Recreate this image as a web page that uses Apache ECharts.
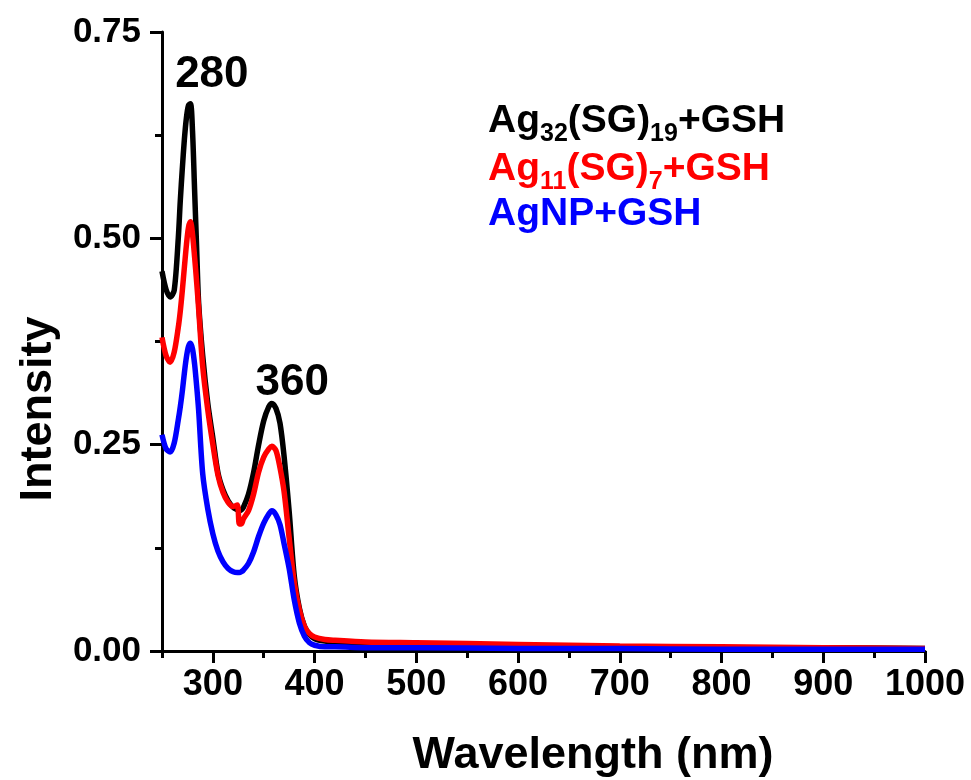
<!DOCTYPE html>
<html>
<head>
<meta charset="utf-8">
<script src="https://cdn.jsdelivr.net/npm/echarts@6/dist/echarts.min.js"></script>
<style>
html,body{margin:0;padding:0;background:#fff;}
#main{width:971px;height:780px;}
</style>
</head>
<body>
<div id="main"></div>
<script>
// Wavelength grid (nm)
var wavelength = [250,254,258,262,266,268,270,272,274,276,278,280,282,284,286,290,295,300,305,310,315,320,324,326,328,330,335,340,345,350,355,358,362,366,370,375,380,385,390,395,400,410,420,450,500,600,700,800,900,1000];
// Ag32(SG)19 + GSH
var ag32 = [0.460,0.438,0.429,0.437,0.500,0.546,0.585,0.620,0.646,0.661,0.663,0.630,0.560,0.490,0.422,0.358,0.300,0.258,0.216,0.195,0.182,0.174,0.171,0.170,0.171,0.174,0.190,0.216,0.250,0.279,0.296,0.300,0.294,0.276,0.236,0.169,0.091,0.052,0.030,0.020,0.015,0.012,0.011,0.009,0.008,0.006,0.005,0.004,0.004,0.003];
// Ag11(SG)7 + GSH
var ag11 = [0.380,0.358,0.350,0.362,0.392,0.412,0.437,0.465,0.492,0.513,0.520,0.505,0.478,0.448,0.415,0.345,0.292,0.250,0.213,0.192,0.180,0.175,0.177,0.154,0.154,0.160,0.170,0.190,0.217,0.235,0.245,0.248,0.243,0.222,0.193,0.137,0.083,0.050,0.030,0.021,0.017,0.014,0.013,0.011,0.010,0.008,0.006,0.005,0.004,0.003];
// AgNP + GSH
var agnp = [0.262,0.245,0.241,0.252,0.280,0.296,0.315,0.337,0.356,0.369,0.373,0.366,0.348,0.322,0.292,0.215,0.172,0.142,0.121,0.108,0.100,0.096,0.095,0.095,0.096,0.098,0.106,0.120,0.139,0.155,0.166,0.170,0.165,0.153,0.130,0.100,0.062,0.034,0.018,0.010,0.007,0.005,0.005,0.004,0.004,0.003,0.003,0.002,0.002,0.002];

var xMajorTicks = [300,400,500,600,700,800,900,1000];
var xMinorTicks = [250,350,450,550,650,750,850,950];

var annoText = ['280','360'];
var annoX = [299,378];
var annoY = [0.698,0.325];

var xTitle = 'Wavelength (nm)';
var yTitle = 'Intensity';

var FONT = 'Liberation Sans, Arial, sans-serif';

function pairs(xs, ys){ return xs.map(function(x,i){ return [x, ys[i]]; }); }

var chart = echarts.init(document.getElementById('main'), null, {renderer:'canvas'});

var axisLine = {show:true, lineStyle:{color:'#000', width:3}};
var LW = 5.5;

var option = {
  backgroundColor:'#fff',
  animation:false,
  grid:{left:162, right:46, top:32, bottom:129, containLabel:false},
  xAxis:[{
    type:'value', min:250, max:1000, position:'bottom',
    axisLine:axisLine,
    axisTick:{show:true, length:12, lineStyle:{color:'#000', width:3}, customValues:xMajorTicks},
    axisLabel:{show:true, customValues:xMajorTicks, margin:16, fontFamily:FONT, fontWeight:'bold', fontSize:36, color:'#000',
      formatter:function(v){ return String(v); }},
    splitLine:{show:false}
  },{
    type:'value', min:250, max:1000, position:'bottom',
    axisLine:{show:false},
    axisTick:{show:true, length:7, lineStyle:{color:'#000', width:3}, customValues:xMinorTicks},
    axisLabel:{show:false},
    splitLine:{show:false}
  }],
  yAxis:{
    type:'value', min:0, max:0.75, interval:0.25,
    axisLine:axisLine,
    axisTick:{show:true, length:12, lineStyle:{color:'#000', width:3}},
    minorTick:{show:true, splitNumber:2, length:7, lineStyle:{color:'#000', width:3}},
    axisLabel:{margin:21, fontFamily:FONT, fontWeight:'bold', fontSize:35, color:'#000',
      formatter:function(v){ return v.toFixed(2); }},
    splitLine:{show:false}, minorSplitLine:{show:false}
  },
  series:[{
    name:'Ag32(SG)19+GSH', type:'line', xAxisIndex:0, data:pairs(wavelength, ag32),
    showSymbol:false, smooth:0.3,
    lineStyle:{color:'#000000', width:LW}, itemStyle:{color:'#000000'},
    markPoint:{
      symbol:'circle', symbolSize:1, itemStyle:{color:'rgba(0,0,0,0)'},
      label:{show:true, position:'inside', fontFamily:FONT, fontWeight:'bold', fontSize:44, color:'#000',
        formatter:function(p){ return p.name; }},
      data:annoText.map(function(t,i){ return {name:t, coord:[annoX[i], annoY[i]]}; })
    }
  },{
    name:'Ag11(SG)7+GSH', type:'line', xAxisIndex:0, data:pairs(wavelength, ag11),
    showSymbol:false, smooth:0.3,
    lineStyle:{color:'#ff0000', width:LW}, itemStyle:{color:'#ff0000'}
  },{
    name:'AgNP+GSH', type:'line', xAxisIndex:0, data:pairs(wavelength, agnp),
    showSymbol:false, smooth:0.3,
    lineStyle:{color:'#0000ff', width:LW}, itemStyle:{color:'#0000ff'}
  }],
  graphic:(function(){
    function rich(col){
      return {
        n:{fontFamily:FONT, fontWeight:'bold', fontSize:39, lineHeight:42, verticalAlign:'top', fill:col},
        s:{fontFamily:FONT, fontWeight:'bold', fontSize:25, lineHeight:25, padding:[20,0,0,0], verticalAlign:'top', fill:col}
      };
    }
    return [
      {type:'text', left:488, top:102, style:{text:'{n|Ag}{s|32}{n|(SG)}{s|19}{n|+GSH}', rich:rich('#000000')}},
      {type:'text', left:488, top:150, style:{text:'{n|Ag}{s|11}{n|(SG)}{s|7}{n|+GSH}', rich:rich('#ff0000')}},
      {type:'text', left:488, top:195, style:{text:'{n|AgNP+GSH}', rich:rich('#0000ff')}},
      {type:'text', x:593, y:733, style:{text:xTitle, fontFamily:FONT, fontWeight:'bold', fontSize:45, fill:'#000', align:'center', verticalAlign:'top'}},
      {type:'text', x:39, y:409, rotation:Math.PI/2, style:{text:yTitle, fontFamily:FONT, fontWeight:'bold', fontSize:45, fill:'#000', align:'center', verticalAlign:'middle'}}
    ];
  })()
};
chart.setOption(option);
</script>
</body>
</html>
